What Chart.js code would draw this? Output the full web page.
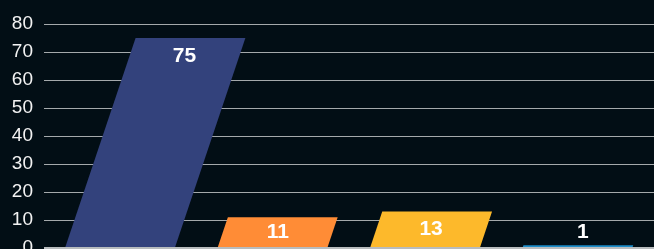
<!DOCTYPE html>
<html>
<head>
<meta charset="utf-8">
<script src="https://cdn.jsdelivr.net/npm/chart.js@4/dist/chart.umd.min.js"></script>
<style>
    html, body { margin: 0; padding: 0; background: #020e15; overflow: hidden; }
    #wrap { width: 654px; height: 249px; overflow: hidden; }
    #box { width: 654px; height: 274px; position: relative; }
</style>
</head>
<body>
<div id="wrap"><div id="box"><canvas id="chart"></canvas></div></div>
<script>
var categories = ['A', 'B', 'C', 'D'];
var values = [75, 11, 13, 1];
var barColors = ['#33427c', '#ff8c36', '#fdb92b', '#1d8dc9'];
var yTicks = [0, 10, 20, 30, 40, 50, 60, 70, 80];

var SKEW = 0.336;

// draws the bars as leaning parallelograms with the value inside the top
var slantBars = {
    id: 'slantBars',
    beforeDatasetDraw: function (chart, args) {
        var ctx = chart.ctx;
        var meta = args.meta;
        ctx.save();
        meta.data.forEach(function (bar, i) {
            var x = bar.x, y = bar.y, base = bar.base, w = bar.width;
            var shift = SKEW * (base - y);
            ctx.fillStyle = barColors[i];
            ctx.beginPath();
            ctx.moveTo(x - w / 2, base);
            ctx.lineTo(x + w / 2, base);
            ctx.lineTo(x + w / 2 + shift, y);
            ctx.lineTo(x - w / 2 + shift, y);
            ctx.closePath();
            ctx.fill();

            var ly = Math.min(y + 18, base - 15);
            var lx = x + SKEW * (base - ly);
            ctx.fillStyle = '#ffffff';
            ctx.font = 'bold 21px "Liberation Sans", Arial, sans-serif';
            ctx.textAlign = 'center';
            ctx.textBaseline = 'middle';
            ctx.fillText(String(values[i]), lx, ly);
        });
        ctx.restore();
        return false;
    }
};

new Chart(document.getElementById('chart'), {
    type: 'bar',
    data: {
        labels: categories,
        datasets: [{
            data: values,
            backgroundColor: barColors,
            categoryPercentage: 0.9,
            barPercentage: 0.8
        }]
    },
    options: {
        responsive: true,
        maintainAspectRatio: false,
        animation: false,
        layout: { padding: { top: 24, right: 0, bottom: 26, left: 0 } },
        plugins: {
            legend: { display: false },
            tooltip: { enabled: false }
        },
        scales: {
            x: {
                display: false
            },
            y: {
                min: 0,
                max: 80,
                afterBuildTicks: function (axis) {
                    axis.ticks = yTicks.map(function (v) { return { value: v }; });
                },
                afterFit: function (axis) { axis.width = 44; },
                border: { display: false },
                grid: {
                    drawTicks: false,
                    color: function (c) { return c.tick && c.tick.value === 0 ? '#b8bcbe' : '#a4a9ab'; },
                    lineWidth: function (c) { return c.tick && c.tick.value === 0 ? 2 : 1; }
                },
                ticks: {
                    padding: 11,
                    color: '#f2f2f2',
                    font: { family: '"Liberation Sans", Arial, sans-serif', size: 19 }
                }
            }
        }
    },
    plugins: [slantBars]
});
</script>
</body>
</html>
